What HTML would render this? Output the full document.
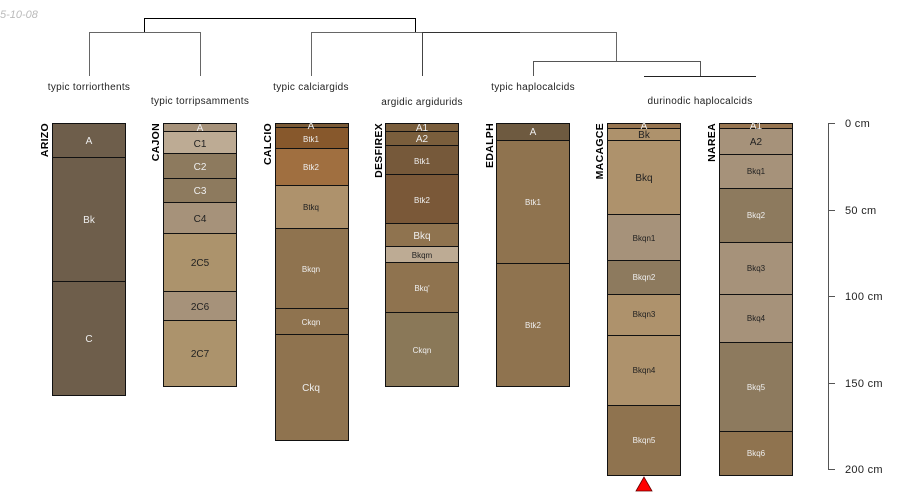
<!DOCTYPE html>
<html><head><meta charset="utf-8"><style>
html,body{margin:0;padding:0;background:#fff;}
svg{display:block;font-family:"Liberation Sans",sans-serif;}
</style></head><body>
<svg width="900" height="500" viewBox="0 0 900 500" xmlns="http://www.w3.org/2000/svg">
<text x="0" y="18" font-size="11" font-style="italic" fill="#bbb">5-10-08</text>
<g fill="none" stroke-width="1">
<path d="M144.5 32 V18.5 H415.5 V32" stroke="#000"/>
<path d="M89.5 76 V32.5 H200.5 V76" stroke="#666"/>
<path d="M311.5 76 V32.5 H422" stroke="#666"/>
<path d="M422 32.5 H520" stroke="#333"/>
<path d="M520 32.5 H616.5 V61" stroke="#666"/>
<path d="M422.5 32.5 V76" stroke="#444"/>
<path d="M533.5 76 V61.5 H700.5 V76" stroke="#555"/>
<path d="M644 76.5 H756" stroke="#222"/>
</g>
<g font-size="10" fill="#222" text-anchor="middle" letter-spacing="0.3">
<text x="89" y="90">typic torriorthents</text>
<text x="200" y="104">typic torripsamments</text>
<text x="311" y="90">typic calciargids</text>
<text x="422" y="105">argidic argidurids</text>
<text x="533" y="90">typic haplocalcids</text>
<text x="700" y="104">durinodic haplocalcids</text>
</g>
<g font-size="10.5" font-weight="bold" fill="#000" text-anchor="end" letter-spacing="0.3">
<text transform="translate(48,123) rotate(-90)">ARIZO</text>
<text transform="translate(159,123) rotate(-90)">CAJON</text>
<text transform="translate(271,123) rotate(-90)">CALCIO</text>
<text transform="translate(382,123) rotate(-90)">DESFIREX</text>
<text transform="translate(493,123) rotate(-90)">EDALPH</text>
<text transform="translate(603,123) rotate(-90)">MACAGCE</text>
<text transform="translate(715,123) rotate(-90)">NAREA</text>
</g>
<g stroke="#111" stroke-width="1" text-anchor="middle">
<rect x="52.5" y="123.5" width="73" height="34" fill="#6e5e4b"/>
<rect x="52.5" y="157.5" width="73" height="124" fill="#6e5e4b"/>
<rect x="52.5" y="281.5" width="73" height="114" fill="#6e5e4b"/>
<rect x="163.5" y="123.5" width="73" height="8" fill="#a6927a"/>
<rect x="163.5" y="131.5" width="73" height="22" fill="#bdab94"/>
<rect x="163.5" y="153.5" width="73" height="25" fill="#8d7a5e"/>
<rect x="163.5" y="178.5" width="73" height="24" fill="#8d7a5e"/>
<rect x="163.5" y="202.5" width="73" height="31" fill="#a6927a"/>
<rect x="163.5" y="233.5" width="73" height="58" fill="#ac936c"/>
<rect x="163.5" y="291.5" width="73" height="29" fill="#a6927a"/>
<rect x="163.5" y="320.5" width="73" height="66" fill="#ac936c"/>
<rect x="275.5" y="123.5" width="73" height="4" fill="#7a5a36"/>
<rect x="275.5" y="127.5" width="73" height="21" fill="#87582c"/>
<rect x="275.5" y="148.5" width="73" height="37" fill="#a06f40"/>
<rect x="275.5" y="185.5" width="73" height="43" fill="#ae926c"/>
<rect x="275.5" y="228.5" width="73" height="80" fill="#8f734f"/>
<rect x="275.5" y="308.5" width="73" height="26" fill="#8f734f"/>
<rect x="275.5" y="334.5" width="73" height="106" fill="#8f734f"/>
<rect x="385.5" y="123.5" width="73" height="8" fill="#7a5e3c"/>
<rect x="385.5" y="131.5" width="73" height="14" fill="#7a5e3c"/>
<rect x="385.5" y="145.5" width="73" height="29" fill="#76593a"/>
<rect x="385.5" y="174.5" width="73" height="49" fill="#7a5838"/>
<rect x="385.5" y="223.5" width="73" height="23" fill="#8f734f"/>
<rect x="385.5" y="246.5" width="73" height="16" fill="#bdab94"/>
<rect x="385.5" y="262.5" width="73" height="50" fill="#8f734f"/>
<rect x="385.5" y="312.5" width="73" height="74" fill="#8a7858"/>
<rect x="496.5" y="123.5" width="73" height="17" fill="#6e5a40"/>
<rect x="496.5" y="140.5" width="73" height="123" fill="#8f734f"/>
<rect x="496.5" y="263.5" width="73" height="123" fill="#8f734f"/>
<rect x="607.5" y="123.5" width="73" height="5" fill="#977550"/>
<rect x="607.5" y="128.5" width="73" height="12" fill="#ae926c"/>
<rect x="607.5" y="140.5" width="73" height="74" fill="#ae926c"/>
<rect x="607.5" y="214.5" width="73" height="46" fill="#a6927a"/>
<rect x="607.5" y="260.5" width="73" height="34" fill="#8d7a5e"/>
<rect x="607.5" y="294.5" width="73" height="41" fill="#ae926c"/>
<rect x="607.5" y="335.5" width="73" height="70" fill="#ae926c"/>
<rect x="607.5" y="405.5" width="73" height="70" fill="#8f734f"/>
<rect x="719.5" y="123.5" width="73" height="5" fill="#977550"/>
<rect x="719.5" y="128.5" width="73" height="26" fill="#a6927a"/>
<rect x="719.5" y="154.5" width="73" height="34" fill="#a6927a"/>
<rect x="719.5" y="188.5" width="73" height="54" fill="#8d7a5e"/>
<rect x="719.5" y="242.5" width="73" height="52" fill="#a6927a"/>
<rect x="719.5" y="294.5" width="73" height="48" fill="#a6927a"/>
<rect x="719.5" y="342.5" width="73" height="89" fill="#8d7a5e"/>
<rect x="719.5" y="431.5" width="73" height="44" fill="#8f734f"/>
</g>
<g text-anchor="middle" font-size="10" fill="#eee">
<text x="89" y="144">A</text><text x="89" y="223">Bk</text><text x="89" y="342">C</text>
<text x="200" y="131">A</text>
<text x="200" y="147" fill="#222">C1</text>
<text x="200" y="170">C2</text><text x="200" y="194">C3</text>
<text x="200" y="222" fill="#222">C4</text>
<text x="200" y="266" fill="#222">2C5</text>
<text x="200" y="310" fill="#222">2C6</text>
<text x="200" y="357" fill="#222">2C7</text>
<text x="311" y="129">A</text>
<g font-size="8"><text x="311" y="142">Btk1</text><text x="311" y="170">Btk2</text>
<text x="311" y="210" fill="#222">Btkq</text><text x="311" y="272">Bkqn</text>
<text x="311" y="325">Ckqn</text></g>
<text x="311" y="391">Ckq</text>
<text x="422" y="131">A1</text><text x="422" y="142">A2</text>
<g font-size="8"><text x="422" y="164">Btk1</text><text x="422" y="203">Btk2</text>
<text x="422" y="258" fill="#222">Bkqm</text><text x="422" y="291">Bkq'</text>
<text x="422" y="353">Ckqn</text></g>
<text x="422" y="239">Bkq</text>
<text x="533" y="135">A</text>
<g font-size="8"><text x="533" y="205">Btk1</text><text x="533" y="328">Btk2</text></g>
<text x="644" y="129">A</text>
<text x="644" y="138" fill="#222">Bk</text>
<text x="644" y="181" fill="#222">Bkq</text>
<g font-size="8"><text x="644" y="241" fill="#222">Bkqn1</text>
<text x="644" y="280">Bkqn2</text>
<text x="644" y="317" fill="#222">Bkqn3</text>
<text x="644" y="373" fill="#222">Bkqn4</text>
<text x="644" y="443">Bkqn5</text></g>
<text x="756" y="129">A1</text>
<text x="756" y="145" fill="#222">A2</text>
<g font-size="8"><text x="756" y="174" fill="#222">Bkq1</text>
<text x="756" y="218">Bkq2</text>
<text x="756" y="271" fill="#222">Bkq3</text>
<text x="756" y="321" fill="#222">Bkq4</text>
<text x="756" y="390">Bkq5</text>
<text x="756" y="456">Bkq6</text></g>
</g>
<g stroke="#555" stroke-width="1">
<path d="M828.5 123 V469"/>
<path d="M828 123.5 H835 M828 210.5 H835 M828 296.5 H835 M828 383.5 H835 M828 469.5 H835"/>
</g>
<g font-size="11" fill="#222" letter-spacing="0.3">
<text x="845" y="127">0 cm</text><text x="845" y="214">50 cm</text>
<text x="845" y="300">100 cm</text><text x="845" y="387">150 cm</text><text x="845" y="473">200 cm</text>
</g>
<polygon points="644,477 636,491 652,491" fill="#f00" stroke="#600" stroke-width="0.8"/>
</svg>
</body></html>
